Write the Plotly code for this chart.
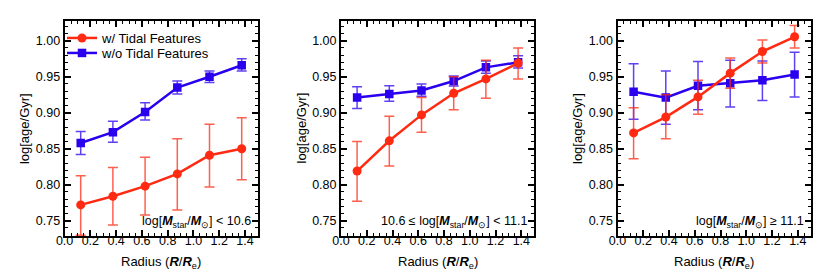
import plotly.graph_objects as go

radius = [0.125, 0.375, 0.625, 0.875, 1.125, 1.375]

# Panel 1: log M < 10.6
p1_red = [0.772, 0.784, 0.798, 0.815, 0.841, 0.850]
p1_red_hi = [0.8125, 0.824, 0.838, 0.864, 0.884, 0.893]
p1_red_lo = [0.730, 0.744, 0.758, 0.765, 0.797, 0.807]
p1_blue = [0.858, 0.873, 0.901, 0.935, 0.950, 0.966]
p1_blue_hi = [0.874, 0.888, 0.914, 0.944, 0.958, 0.975]
p1_blue_lo = [0.842, 0.859, 0.890, 0.926, 0.942, 0.958]

# Panel 2: 10.6 <= log M < 11.1
p2_red = [0.819, 0.861, 0.897, 0.927, 0.947, 0.969]
p2_red_hi = [0.860, 0.895, 0.921, 0.950, 0.973, 0.990]
p2_red_lo = [0.777, 0.826, 0.873, 0.904, 0.920, 0.947]
p2_blue = [0.921, 0.926, 0.931, 0.944, 0.963, 0.970]
p2_blue_hi = [0.936, 0.9375, 0.940, 0.951, 0.972, 0.979]
p2_blue_lo = [0.906, 0.916, 0.923, 0.937, 0.955, 0.962]

# Panel 3: log M >= 11.1
p3_red = [0.872, 0.894, 0.922, 0.955, 0.985, 1.0055]
p3_red_hi = [0.907, 0.925, 0.945, 0.976, 1.001, 1.021]
p3_red_lo = [0.836, 0.864, 0.898, 0.934, 0.969, 0.990]
p3_blue = [0.929, 0.921, 0.9375, 0.941, 0.945, 0.953]
p3_blue_hi = [0.968, 0.958, 0.971, 0.973, 0.972, 0.984]
p3_blue_lo = [0.891, 0.884, 0.904, 0.908, 0.917, 0.922]

panel_labels = [
    "log[<b><i>M</i></b><sub>star</sub>/<b><i>M</i></b><sub>⊙</sub>] < 10.6",
    "10.6 ≤ log[<b><i>M</i></b><sub>star</sub>/<b><i>M</i></b><sub>⊙</sub>] < 11.1",
    "log[<b><i>M</i></b><sub>star</sub>/<b><i>M</i></b><sub>⊙</sub>] ≥ 11.1",
]
y_ticks = [0.75, 0.80, 0.85, 0.90, 0.95, 1.00]
y_ticktext = ["0.75", "0.80", "0.85", "0.90", "0.95", "1.00"]
x_ticks = [0.0, 0.2, 0.4, 0.6, 0.8, 1.0, 1.2, 1.4]
x_ticktext = ["0.0", "0.2", "0.4", "0.6", "0.8", "1.0", "1.2", "1.4"]

RED = "#ff2a12"
BLUE = "#2a00ee"
RED_ERR = "rgba(255,42,18,0.75)"
BLUE_ERR = "rgba(42,0,238,0.75)"
FONT = "Liberation Sans, Arial, sans-serif"

panels = [
    (p1_red, p1_red_hi, p1_red_lo, p1_blue, p1_blue_hi, p1_blue_lo),
    (p2_red, p2_red_hi, p2_red_lo, p2_blue, p2_blue_hi, p2_blue_lo),
    (p3_red, p3_red_hi, p3_red_lo, p3_blue, p3_blue_hi, p3_blue_lo),
]

W, H = 830, 277
OFF = 8  # page body margin offset compensation


def px(x):
    return (x - OFF) / W


def py(y):
    return 1 - (y - OFF) / H


x_domains = [(64.6, 257.8), (341.0, 534.2), (617.5, 810.7)]
y_top, y_bot = 21.0, 236.0

fig = go.Figure()
annotations = []
for i, (r, rh, rl, b, bh, bl) in enumerate(panels):
    ax = "" if i == 0 else str(i + 1)
    xa, ya = "x" + ax, "y" + ax
    fig.add_trace(go.Scatter(
        x=radius, y=b, xaxis=xa, yaxis=ya, mode="lines+markers",
        name="w/o Tidal Features", showlegend=(i == 0), legend="legend2",
        line=dict(color=BLUE, width=2.5),
        marker=dict(symbol="square", size=8.5, color=BLUE),
        error_y=dict(type="data", symmetric=False,
                     array=[h - v for h, v in zip(bh, b)],
                     arrayminus=[v - l for v, l in zip(b, bl)],
                     color=BLUE_ERR, thickness=1.5, width=5),
        cliponaxis=True,
    ))
    fig.add_trace(go.Scatter(
        x=radius, y=r, xaxis=xa, yaxis=ya, mode="lines+markers",
        name="w/ Tidal Features", showlegend=(i == 0), legend="legend",
        line=dict(color=RED, width=2.5),
        marker=dict(symbol="circle", size=9, color=RED),
        error_y=dict(type="data", symmetric=False,
                     array=[h - v for h, v in zip(rh, r)],
                     arrayminus=[v - l for v, l in zip(r, rl)],
                     color=RED_ERR, thickness=1.5, width=5),
        cliponaxis=True,
    ))
    x0, x1 = x_domains[i]
    common = dict(showline=True, linewidth=2, linecolor="black", mirror="allticks",
                  ticks="inside", tickcolor="black", tickwidth=1.5, ticklen=6,
                  showgrid=False, zeroline=False,
                  tickfont=dict(family=FONT, size=12.5, color="black"))
    fig.layout["xaxis" + ax] = dict(
        domain=[px(x0), px(x1)], range=[0, 1.5], anchor=ya,
        tickvals=x_ticks, ticktext=x_ticktext, ticklabelstandoff=-8,
        minor=dict(ticks="inside", dtick=0.05, ticklen=3, tickcolor="black", tickwidth=1),
        **common)
    fig.layout["yaxis" + ax] = dict(
        domain=[py(y_bot), py(y_top)], range=[0.7288, 1.0274], anchor=xa,
        tickvals=y_ticks, ticktext=y_ticktext,
        minor=dict(ticks="inside", dtick=0.01, ticklen=3, tickcolor="black", tickwidth=1),
        **common)
    # panel label
    annotations.append(dict(
        x=px(x1 - 5), y=py(222), xref="paper", yref="paper",
        xanchor="right", yanchor="middle", showarrow=False,
        text=panel_labels[i], font=dict(family=FONT, size=12.5, color="black")))
    # x title
    annotations.append(dict(
        x=px((x0 + x1) / 2), y=py(262), xref="paper", yref="paper",
        xanchor="center", yanchor="middle", showarrow=False,
        text="Radius (<b><i>R</i></b>/<b><i>R</i></b><sub>e</sub>)",
        font=dict(family=FONT, size=13, color="black")))
    # y title
    annotations.append(dict(
        x=px(x0 - 40), y=py((y_top + y_bot) / 2), xref="paper", yref="paper",
        xanchor="center", yanchor="middle", showarrow=False, textangle=-90,
        text="log[age/Gyr]", font=dict(family=FONT, size=13, color="black")))

leg_common = dict(xanchor="left", yanchor="top", bgcolor="rgba(0,0,0,0)",
                  font=dict(family=FONT, size=13, color="black"),
                  itemwidth=30, tracegroupgap=0)
fig.update_layout(
    width=W, height=H, margin=dict(l=0, r=0, t=0, b=0, autoexpand=False),
    paper_bgcolor="white", plot_bgcolor="white",
    annotations=annotations,
    legend=dict(x=px(62), y=py(23), **leg_common),
    legend2=dict(x=px(62), y=py(38), **leg_common),
    showlegend=True,
)

fig.write_html("out.html")
